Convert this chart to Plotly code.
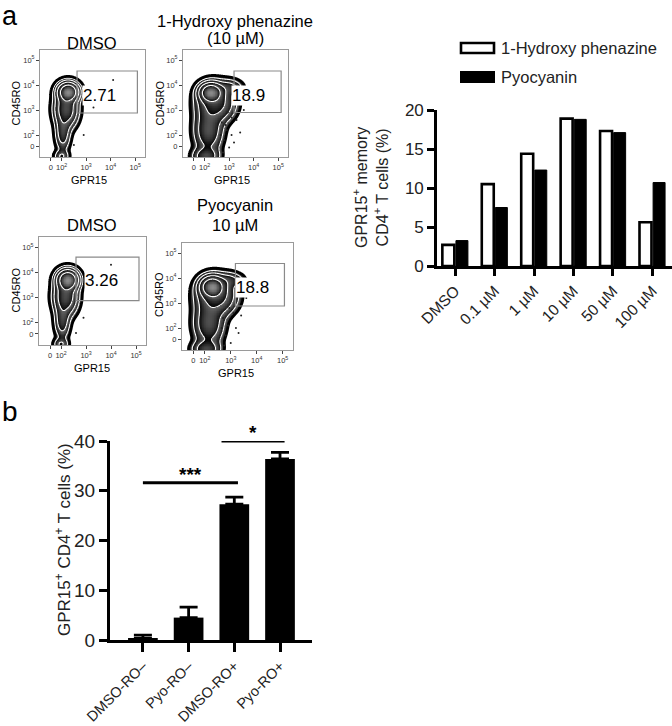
import numpy as np
import plotly.graph_objects as go

W, H = 672, 726
FONT = "Liberation Sans, Arial, sans-serif"

# ---------------- Panel a: flow cytometry plots ----------------
flow_titles = [["DMSO"], ["1-Hydroxy phenazine", "(10 µM)"], ["DMSO"], ["Pyocyanin", "10 µM"]]
gate_pct = ["2.71", "18.9", "3.26", "18.8"]
gate_x0 = [2.63, 3.20, 2.60, 3.18]
gate_x1 = [5.09, 5.12, 5.12, 5.07]
gate_y0 = [2.88, 2.90, 2.88, 2.88]
gate_y1 = [4.56, 4.56, 4.60, 4.58]
label_x = [3.55, 3.80, 3.62, 3.83]
label_y = [3.60, 3.60, 3.67, 3.63]
log_tick_vals = [1.56, 2, 3, 4, 5]
log_tick_text = ["0", "10<sup>2</sup>", "10<sup>3</sup>", "10<sup>4</sup>", "10<sup>5</sup>"]

# cell populations (log-scale centres, spreads, weights) per plot
pop_cx = [[2.27, 2.18, 2.05, 2.00],
          [2.25, 2.45, 3.00, 2.15, 2.05],
          [2.27, 2.18, 2.05, 2.00],
          [2.28, 2.45, 2.95, 2.15, 2.05]]
pop_cy = [[3.72, 3.05, 2.10, 1.15],
          [3.70, 3.30, 3.90, 2.20, 1.15],
          [3.70, 3.05, 2.10, 1.15],
          [3.65, 3.30, 3.90, 2.20, 1.15]]
pop_sx = [[0.22, 0.25, 0.17, 0.17],
          [0.24, 0.40, 0.30, 0.32, 0.30],
          [0.22, 0.25, 0.17, 0.17],
          [0.24, 0.40, 0.30, 0.32, 0.30]]
pop_sy = [[0.20, 0.38, 0.40, 0.14],
          [0.20, 0.40, 0.18, 0.50, 0.20],
          [0.21, 0.38, 0.40, 0.14],
          [0.22, 0.40, 0.18, 0.50, 0.20]]
pop_w = [[1.0, 0.30, 0.10, 0.06],
         [1.0, 0.25, 0.08, 0.13, 0.11],
         [1.0, 0.30, 0.10, 0.06],
         [1.0, 0.25, 0.08, 0.13, 0.11]]
# sparse outlying events (log-scale positions) per plot
event_x = [[2.9, 3.3, 2.5, 4.1],
           [2.7, 2.9, 3.1, 2.8, 3.3, 3.0, 2.75, 3.45, 2.95, 3.2, 2.65, 3.6, 2.85, 3.1],
           [2.9, 2.6, 3.4, 4.0],
           [2.7, 2.9, 3.2, 2.8, 3.4, 3.0, 2.75, 3.6, 2.95, 3.3, 2.65, 3.1]]
event_y = [[2.0, 3.1, 1.6, 4.2],
           [2.5, 2.2, 2.0, 1.8, 2.6, 1.5, 1.3, 2.1, 2.9, 1.7, 2.0, 3.0, 2.4, 2.7],
           [2.2, 1.6, 3.4, 4.3],
           [2.4, 2.1, 2.0, 1.7, 2.5, 1.4, 1.3, 3.2, 2.8, 1.8, 2.0, 2.6]]

# ---------------- Panel a: bar chart ----------------
conc = ["DMSO", "0.1 µM", "1 µM", "10 µM", "50 µM", "100 µM"]
hp_vals = [2.71, 10.5, 14.4, 18.9, 17.3, 5.6]
pyo_vals = [3.26, 7.5, 12.3, 18.8, 17.1, 10.7]

# ---------------- Panel b ----------------
groups = ["DMSO-RO–", "Pyo-RO–", "DMSO-RO+", "Pyo-RO+"]
means = [0.3, 4.5, 27.3, 36.4]
sem = [0.7, 2.1, 1.4, 1.3]
sig_x0 = [0, 1.72]
sig_x1 = [2.08, 3.10]
sig_y = [31.6, 40.0]
sig_text = ["***", "*"]


def px(x):
    return x / W


def py(y):
    return 1 - y / H


def label(x, y, text, size, angle=0, xanchor="center", color="black"):
    fig.add_annotation(xref="paper", yref="paper", x=px(x), y=py(y), text=text, textangle=angle,
                       showarrow=False, xanchor=xanchor, yanchor="middle",
                       font=dict(size=size, color=color, family=FONT))


fig = go.Figure()

# pixel boxes of the flow plots (left, right, top, bottom)
boxes = [(40, 145, 50, 157), (183, 288, 50, 157), (39, 146, 237, 345), (182, 293, 243, 350)]
grid = np.linspace(1.12, 5.4, 170)
GX, GY = np.meshgrid(grid, grid)
thr = 0.008
band = 0.2

# zebra colorscale: white outside, each band black -> grey
zmin, zmax = -0.05, 1.0
cs = [[0.0, "white"], [(0 - zmin) / (zmax - zmin) - 0.001, "white"]]
for k in range(5):
    s0 = k * band
    s1 = (k + 1) * band
    p0 = (s0 - zmin) / (zmax - zmin)
    p1 = (s1 - zmin) / (zmax - zmin)
    cs.append([p0 + (0.0002 if k else 0), "#000000"])
    cs.append([min(p1 - 0.0002, 1.0), "#666666" if k < 4 else "#8a8a8a"])
cs[-1][0] = 1.0

for i in range(4):
    ax = str(i + 1)
    dens = np.zeros_like(GX)
    for cx, cy, sx, sy, w in zip(pop_cx[i], pop_cy[i], pop_sx[i], pop_sy[i], pop_w[i]):
        dens += w * np.exp(-0.5 * ((GX - cx) / sx) ** 2 - 0.5 * ((GY - cy) / sy) ** 2)
    dens /= dens.max()
    s = (np.log(np.maximum(dens, 1e-12)) - np.log(thr)) / (-np.log(thr))
    s = np.clip(s, zmin, zmax)
    common = dict(x=grid, y=grid, z=s, xaxis="x" + ax, yaxis="y" + ax,
                  showscale=False, hoverinfo="skip")
    fig.add_trace(go.Contour(**common, colorscale=cs, zmin=zmin, zmax=zmax,
                             contours=dict(coloring="heatmap", showlines=False,
                                           start=0, end=1, size=band)))
    fig.add_trace(go.Contour(**common, contours=dict(coloring="none", start=band, end=0.81, size=band),
                             line=dict(color="white", width=1.1, smoothing=1)))
    fig.add_trace(go.Contour(**common, contours=dict(coloring="none", start=0.0, end=0.01, size=0.1),
                             line=dict(color="black", width=2.8, smoothing=1)))
    fig.add_trace(go.Scatter(x=event_x[i], y=event_y[i], mode="markers", xaxis="x" + ax, yaxis="y" + ax,
                             marker=dict(size=2, color="#222"), hoverinfo="skip", showlegend=False))
    l, r, t, b = boxes[i]
    axstyle = dict(range=[1.12, 5.4], showline=True, mirror=True, linecolor="#9a9a9a", linewidth=1,
                   ticks="outside", ticklen=3, tickwidth=1, tickcolor="#444",
                   tickvals=log_tick_vals, ticktext=log_tick_text,
                   tickfont=dict(size=7.5, color="#333", family=FONT), automargin=False,
                   showgrid=False, zeroline=False, fixedrange=True)
    fig.update_layout(**{
        "xaxis" + ax: dict(axstyle, domain=[px(l), px(r)], anchor="y" + ax),
        "yaxis" + ax: dict(axstyle, domain=[py(b), py(t)], anchor="x" + ax),
    })
    fig.add_shape(type="rect", xref="x" + ax, yref="y" + ax,
                  x0=gate_x0[i], x1=gate_x1[i], y0=gate_y0[i], y1=gate_y1[i],
                  line=dict(color="#8a8a8a", width=1.2))
    fig.add_annotation(xref="x" + ax, yref="y" + ax, x=label_x[i], y=label_y[i],
                       text=gate_pct[i], showarrow=False, bgcolor="white", borderpad=0,
                       xanchor="center", yanchor="middle",
                       font=dict(size=17, color="black", family=FONT))

# flow plot titles and axis labels
title_pos = [(92, [43]), (235, [21, 38]), (92, [225]), (235, [205, 225])]
for (xc, ys), lines in zip(title_pos, flow_titles):
    for yy, txt in zip(ys, lines):
        label(xc, yy, txt, 16.5)
for xx, yy in [(15.5, 103), (159.5, 103), (15.5, 290), (159, 295)]:
    label(xx, yy, "CD45RO", 11, angle=-90)
for xx, yy in [(89, 180), (232, 180), (92, 368), (236, 373)]:
    label(xx, yy, "GPR15", 11)

# ---------------- bar chart (panel a) ----------------
fig.add_trace(go.Bar(x=conc, y=hp_vals, name="1-Hydroxy phenazine", xaxis="x5", yaxis="y5",
                     marker=dict(color="white", line=dict(color="black", width=2.6)), showlegend=False))
fig.add_trace(go.Bar(x=conc, y=pyo_vals, name="Pyocyanin", xaxis="x5", yaxis="y5",
                     marker=dict(color="black", line=dict(color="black", width=1)), showlegend=False))
fig.update_layout(
    xaxis5=dict(domain=[px(437), 1.0], anchor="y5", range=[-0.46, 5.5], showline=True,
                linecolor="black", linewidth=2.6, ticks="outside", ticklen=7, tickwidth=2.6,
                tickcolor="black", tickangle=-45, tickfont=dict(size=15.5, color="#222", family=FONT),
                showgrid=False, zeroline=False, automargin=False),
    yaxis5=dict(domain=[py(266), py(110)], anchor="x5", range=[0, 20], showline=True,
                linecolor="black", linewidth=2.6, ticks="outside", ticklen=7, tickwidth=2.6,
                tickcolor="black", tickvals=[0, 5, 10, 15, 20], automargin=False,
                tickfont=dict(size=17, color="#222", family=FONT), showgrid=False, zeroline=False),
)
label(371, 188, "GPR15<sup>+</sup> memory<br>CD4<sup>+</sup> T cells (%)", 16, angle=-90, color="#222")
# legend keys
fig.add_shape(type="rect", xref="paper", yref="paper", x0=px(461), x1=px(494), y0=py(53), y1=py(43),
              line=dict(color="black", width=2.6), fillcolor="white")
fig.add_shape(type="rect", xref="paper", yref="paper", x0=px(460), x1=px(495), y0=py(83), y1=py(71),
              line=dict(color="black", width=0), fillcolor="black")
label(499, 48, "1-Hydroxy phenazine", 16.5, xanchor="left", color="#222")
label(499, 77, "Pyocyanin", 16.5, xanchor="left", color="#222")

# ---------------- panel b ----------------
fig.add_trace(go.Bar(x=list(range(len(groups))), y=means, xaxis="x6", yaxis="y6", width=0.65,
                     marker=dict(color="black", line=dict(width=0)), showlegend=False,
                     error_y=dict(type="data", array=sem, arrayminus=[0] * len(sem), symmetric=False,
                                  color="black", thickness=2.8, width=9)))
fig.update_layout(
    xaxis6=dict(domain=[px(110), px(312)], anchor="y6", range=[-0.72, 3.70], showline=True,
                linecolor="black", linewidth=3, ticks="outside", ticklen=9, tickwidth=3,
                tickcolor="black", tickangle=-45, tickvals=list(range(len(groups))), ticktext=groups,
                tickfont=dict(size=14.5, color="#222", family=FONT), showgrid=False, zeroline=False,
                automargin=False),
    yaxis6=dict(domain=[py(640), py(441)], anchor="x6", range=[0, 40], showline=True,
                linecolor="black", linewidth=3, ticks="outside", ticklen=8, tickwidth=3,
                tickcolor="black", tickvals=[0, 10, 20, 30, 40], automargin=False,
                tickfont=dict(size=19, color="#222", family=FONT), showgrid=False, zeroline=False),
)
label(63, 540, "GPR15<sup>+</sup> CD4<sup>+</sup> T cells (%)", 17, angle=-90, color="#222")
for x0, x1, yv, t in zip(sig_x0, sig_x1, sig_y, sig_text):
    fig.add_shape(type="line", xref="x6", yref="y6", x0=x0, x1=x1, y0=yv, y1=yv,
                  line=dict(color="black", width=3))
    fig.add_annotation(xref="x6", yref="y6", x=(x0 + x1) / 2, y=yv, text="<b>" + t + "</b>",
                       showarrow=False, xanchor="center", yanchor="bottom", yshift=-4,
                       font=dict(size=19, color="black", family=FONT))

# panel letters
label(0, 16, "a", 27, xanchor="left")
label(0, 412, "b", 28, xanchor="left")

fig.update_layout(template="none", width=W, height=H, margin=dict(l=0, r=0, t=0, b=0, autoexpand=False),
                  paper_bgcolor="white", plot_bgcolor="white", barmode="group", bargap=0.31,
                  bargroupgap=0.12, showlegend=False)
fig.write_html("out.html", config={"displayModeBar": False},
               post_script="document.body.style.margin='0';document.body.style.overflow='hidden';")
